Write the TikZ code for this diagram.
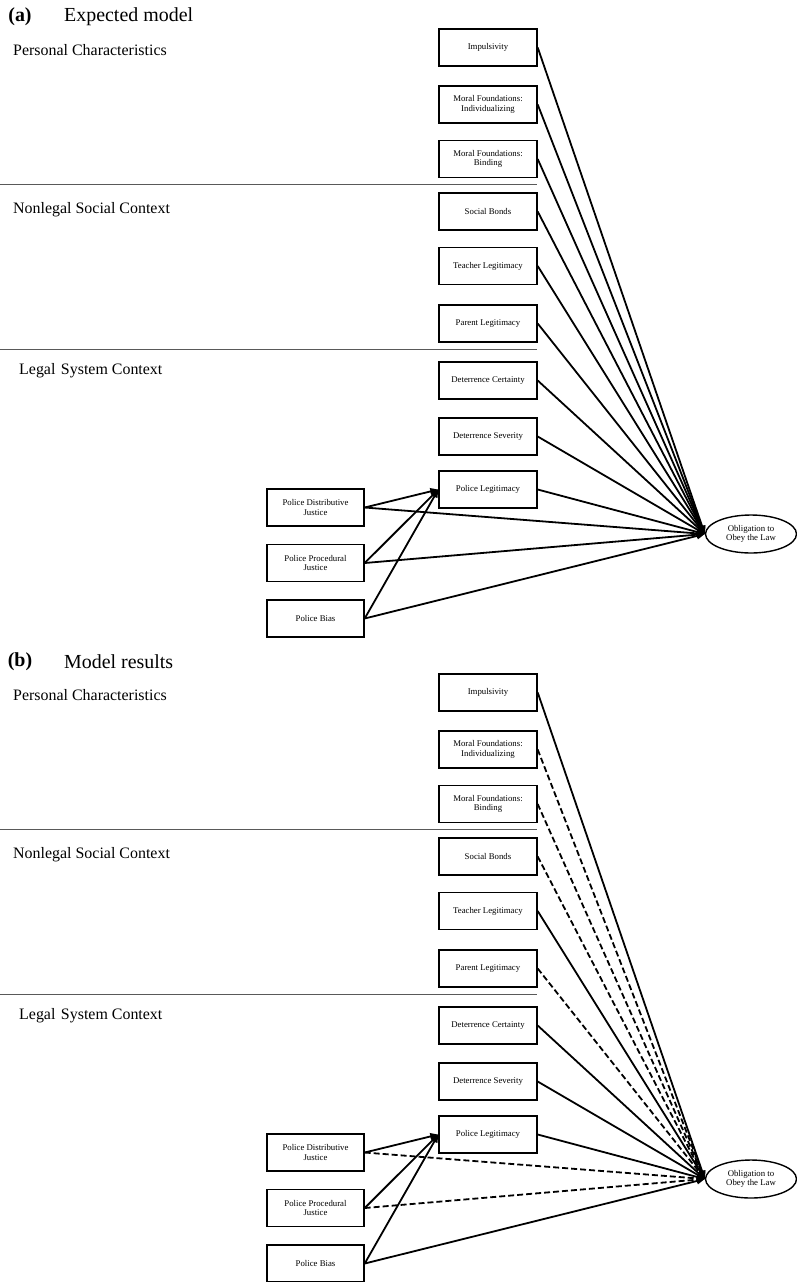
\documentclass[tikz,border=0pt]{standalone}
\usepackage{fontspec}
\setmainfont{Liberation Serif}
\usetikzlibrary{shapes.geometric,arrows.meta}
\tikzset{
  box/.style={draw, line width=1.4bp, minimum width=98bp, minimum height=37bp, inner sep=1bp,
    align=center, font=\fontsize{8.8}{9.6}\selectfont},
  pbox/.style={box, minimum width=97bp},
  obl/.style={draw, ellipse, line width=1.4bp, minimum width=91bp, minimum height=38bp, inner sep=0pt,
    align=center, font=\fontsize{8.8}{9.6}\selectfont},
  tag/.style={font=\fontsize{20}{22}\selectfont\bfseries, inner sep=0pt},
  ttl/.style={font=\fontsize{20}{22}\selectfont, inner sep=0pt},
  sec/.style={font=\fontsize{16}{18}\selectfont, inner sep=0pt},
  sep/.style={draw=black!65, line width=1bp},
  arr/.style={line width=1.8bp, -{Triangle[length=8bp,width=6.5bp]}},
  dsh/.style={dash pattern=on 6bp off 3bp},
  eMI/.style={}, eMB/.style={}, eSB/.style={}, ePA/.style={}, ePD/.style={}, ePP/.style={}
}
\newcommand\modelpanel[2]{%
  \node[tag] (tag) at (20,17) {#1};
  \node[ttl, anchor=west] (title) at (64,17) {#2};
  \node[sec, anchor=west] (s1) at (13,50) {Personal Characteristics};
  \node[sec, anchor=west] (s2) at (13,210) {Nonlegal Social Context};
  \node[sec, anchor=west] (s3) at (19,371) {Legal\hspace{1.5bp} System Context};
  \coordinate (l1a) at (0,184); \coordinate (l1b) at (537,184);
  \coordinate (l2a) at (0,349); \coordinate (l2b) at (537,349);
  \draw[sep] (l1a) -- (l1b);
  \draw[sep] (l2a) -- (l2b);
  \node[box] (imp) at (488,47.5) {Impulsivity};
  \node[box] (mi) at (488,104.5) {Moral Foundations:\\Individualizing};
  \node[box] (mb) at (488,159) {Moral Foundations:\\Binding};
  \node[box] (sb) at (488,211.5) {Social Bonds};
  \node[box] (tl) at (488,266) {Teacher Legitimacy};
  \node[box] (pa) at (488,323.5) {Parent Legitimacy};
  \node[box] (dc) at (488,380.5) {Deterrence Certainty};
  \node[box] (ds) at (488,436.5) {Deterrence Severity};
  \node[box] (pl) at (488,489.5) {Police Legitimacy};
  \node[pbox] (pd) at (315.5,507.5) {Police Distributive\\Justice};
  \node[pbox] (pp) at (315.5,563) {Police Procedural\\Justice};
  \node[pbox] (pb) at (315.5,618.5) {Police Bias};
  \node[obl] (ob) at (751,534) {Obligation to\\Obey the Law};
  \draw[arr] (imp.east) -- (ob.west);
  \draw[arr,eMI] (mi.east) -- (ob.west);
  \draw[arr,eMB] (mb.east) -- (ob.west);
  \draw[arr,eSB] (sb.east) -- (ob.west);
  \draw[arr] (tl.east) -- (ob.west);
  \draw[arr,ePA] (pa.east) -- (ob.west);
  \draw[arr] (dc.east) -- (ob.west);
  \draw[arr] (ds.east) -- (ob.west);
  \draw[arr] (pl.east) -- (ob.west);
  \draw[arr,ePD] (pd.east) -- (ob.west);
  \draw[arr,ePP] (pp.east) -- (ob.west);
  \draw[arr] (pb.east) -- (ob.west);
  \draw[arr] (pd.east) -- (pl.west);
  \draw[arr] (pp.east) -- (pl.west);
  \draw[arr] (pb.east) -- (pl.west);
}
\begin{document}
\begin{tikzpicture}[x=1bp, y=-1bp]
  \useasboundingbox (0,0) rectangle (797,1282);
  \begin{scope}[name prefix=a-]
    \modelpanel{(a)}{Expected model}
  \end{scope}
  \begin{scope}[name prefix=b-, yshift=-645bp,
      eMI/.style={dsh}, eMB/.style={dsh}, eSB/.style={dsh}, ePA/.style={dsh}, ePD/.style={dsh}, ePP/.style={dsh}]
    \modelpanel{(b)}{Model results}
  \end{scope}
\end{tikzpicture}
\end{document}
